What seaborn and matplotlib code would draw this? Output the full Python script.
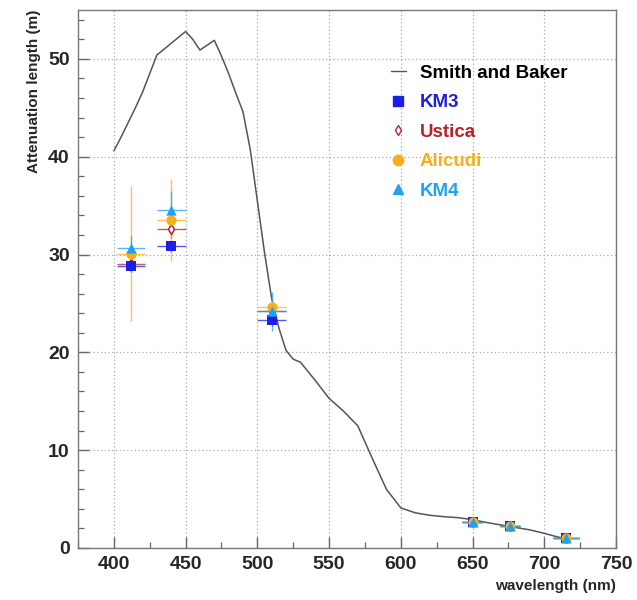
import matplotlib
matplotlib.use("Agg")
import matplotlib.pyplot as plt
import seaborn as sns
import numpy as np
import pandas as pd
from matplotlib.lines import Line2D
from matplotlib.ticker import MultipleLocator

# Smith and Baker curve
sb_wl = [400, 405, 410, 415, 420, 425, 430, 435, 440, 445, 450, 455, 460, 465, 470,
         475, 480, 485, 490, 495, 500, 505, 510, 515, 520, 525, 530, 540, 550, 560,
         570, 580, 590, 600, 610, 620, 630, 640, 650, 660, 670, 680, 690, 700, 710, 716]
sb_att = [40.6, 42.0, 43.5, 45.0, 46.6, 48.5, 50.4, 51.0, 51.6, 52.2, 52.8, 52.0, 50.9, 51.4, 51.9,
          50.3, 48.5, 46.5, 44.6, 40.8, 35.5, 30.2, 25.5, 22.5, 20.2, 19.3, 19.0, 17.2, 15.3, 14.0,
          12.5, 9.2, 6.0, 4.1, 3.6, 3.35, 3.2, 3.1, 2.9, 2.6, 2.35, 2.1, 1.85, 1.5, 1.1, 1.0]

# measurements
wl = [412, 440, 510, 650, 676, 715]
wl_err = [9.5, 10, 10, 7, 7, 9]
km3 = [28.8, 30.9, 23.3, 2.7, 2.3, 1.0]
km3_err = [0.6, 0.6, 0.6, 0.2, 0.2, 0.1]
ustica = [29.0, 32.65, 24.2, 2.7, 2.3, 1.0]
ustica_err = [0.8, 1.0, 0.8, 0.2, 0.2, 0.1]
alicudi = [30.1, 33.5, 24.6, 2.7, 2.3, 1.0]
alicudi_err = [6.9, 4.2, 1.0, 0.2, 0.2, 0.1]
km4 = [30.7, 34.6, 24.2, 2.7, 2.3, 1.0]
km4_err = [1.2, 1.9, 2.0, 0.2, 0.2, 0.1]

series_names = ["KM3", "Ustica", "Alicudi", "KM4"]
series_vals = [km3, ustica, alicudi, km4]
series_errs = [km3_err, ustica_err, alicudi_err, km4_err]
colors = {"KM3": "#1e1ee6", "Ustica": "#b82328", "Alicudi": "#f6b01c", "KM4": "#1ea2f2"}
markers = {"KM3": "s", "Ustica": "d", "Alicudi": "o", "KM4": "^"}
zorders = {"Ustica": 5.0, "KM3": 5.1, "Alicudi": 5.2, "KM4": 5.3}

sns.set_style("white")
plt.rcParams['font.family'] = ['Liberation Sans', 'DejaVu Sans']

fig = plt.figure(figsize=(6.37, 6.0), dpi=100)
ax = fig.add_axes([78/637, 52/600, (616-78)/637, (548-10)/600])

sb_df = pd.DataFrame({"wl": sb_wl, "att": sb_att})
sns.lineplot(data=sb_df, x="wl", y="att", ax=ax, color="#555555", lw=1.1, zorder=3)

for name, vals, errs in zip(series_names, series_vals, series_errs):
    c = colors[name]
    ax.errorbar(wl, vals, xerr=wl_err, yerr=errs, fmt="none", ecolor=c,
                elinewidth=1.0, alpha=0.75, zorder=4)
    df = pd.DataFrame({"wl": wl, "att": vals})
    if name == "Ustica":
        sns.scatterplot(data=df, x="wl", y="att", ax=ax, marker="d", s=26,
                        facecolor="white", edgecolor=c, linewidth=1.1, zorder=zorders[name])
    else:
        sns.scatterplot(data=df, x="wl", y="att", ax=ax, marker=markers[name], s=55,
                        color=c, edgecolor=c, linewidth=0, zorder=zorders[name])

ax.set_xlim(375, 750)
ax.set_ylim(0, 55)
ax.xaxis.set_major_locator(MultipleLocator(50))
ax.xaxis.set_minor_locator(MultipleLocator(25))
ax.yaxis.set_major_locator(MultipleLocator(10))
ax.yaxis.set_minor_locator(MultipleLocator(2))
ax.grid(True, which="major", ls=(0, (1, 2)), color="#aaaaaa", lw=0.9)
ax.tick_params(which="both", direction="in", bottom=True, left=True, top=False, right=False,
               color="#666666")
ax.tick_params(which="major", length=8, width=1.0, labelsize=14, pad=6)
ax.tick_params(which="minor", length=4, width=0.9)
for lab in ax.get_xticklabels() + ax.get_yticklabels():
    lab.set_fontweight("bold")
for s in ax.spines.values():
    s.set_color("#777777")
    s.set_linewidth(1.0)

ax.set_xlabel("wavelength (nm)", fontsize=11, fontweight="bold", loc="right", labelpad=4)
ax.set_ylabel("Attenuation length (m)", fontsize=11, fontweight="bold", loc="top", labelpad=5)

handles = [Line2D([], [], color="#555555", lw=1.0)]
labels = ["Smith and Baker"] + series_names
for name in series_names:
    if name == "Ustica":
        handles.append(Line2D([], [], ls="none", marker="d", markersize=5.5,
                              markerfacecolor="white", markeredgecolor=colors[name]))
    else:
        handles.append(Line2D([], [], ls="none", marker=markers[name], markersize=7.5,
                              color=colors[name]))
leg = ax.legend(handles, labels, loc="upper left", bbox_to_anchor=(0.55, 0.93),
                frameon=False, fontsize=13.5, handlelength=0.8, handletextpad=0.75,
                labelspacing=0.66)
text_colors = ["black"] + [colors[n] for n in series_names]
for t, c in zip(leg.get_texts(), text_colors):
    t.set_color(c)
    t.set_fontweight("bold")

fig.savefig("out.png", dpi=100)
